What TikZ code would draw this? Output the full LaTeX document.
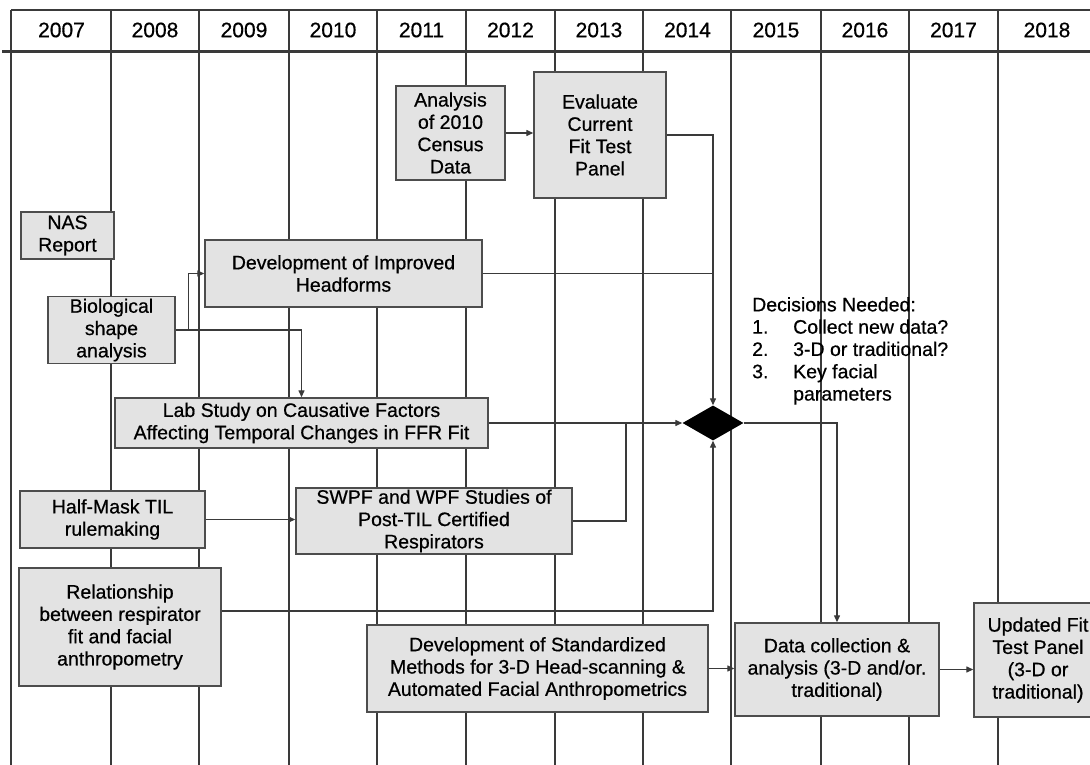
\documentclass[tikz,border=0pt]{standalone}
\usepackage{fontspec}
\setmainfont[FakeBold=0.6]{Liberation Sans}
\usetikzlibrary{arrows.meta,shapes.geometric}
\definecolor{boxfill}{HTML}{E3E3E3}
\definecolor{boxline}{HTML}{4D4D4D}
\definecolor{gridline}{HTML}{3A3A3A}

\begin{document}
\begin{tikzpicture}[x=1pt,y=-1pt,
    font=\fontsize{19.5}{22.3}\selectfont,
    taskbox/.style={draw=boxline,line width=1.4pt,fill=boxfill,align=center,inner sep=2pt},
    arrowline/.style={draw=gridline,line width=1.3pt,-{Triangle[length=7pt,width=6pt]}},
    joinline/.style={draw=gridline,line width=1.3pt}]
  \useasboundingbox (0,0) rectangle (1090,765);

  % Year grid and header
  \foreach \xd in {111,199,289,377,466,555,643,731,821,909,998}
    \draw[gridline,line width=1.3pt] (\xd,10) -- (\xd,765);
  \draw[gridline,line width=2.5pt] (11,10) -- (11,765);
  \draw[gridline,line width=2.5pt] (11,10) -- (1090,10);
  \draw[gridline,line width=3pt] (2,52) -- (1090,52);
  \foreach \yr/\xc in {2007/61.5,2008/155,2009/244,2010/333,2011/421.5,2012/510.5,
                       2013/599,2014/687.5,2015/776,2016/865,2017/953.5,2018/1047}
    \node[font=\fontsize{21}{24}\selectfont] (yr\yr) at (\xc,30) {\yr};

  % Tasks
  \node[taskbox,minimum width=93,minimum height=47] (nas) at (67.5,235.5) {NAS\\Report};
  \node[taskbox,minimum width=127,minimum height=66] (bio) at (111.5,330) {Biological\\shape\\analysis};
  \node[taskbox,minimum width=277,minimum height=67] (headforms) at (343.5,273.5) {Development of Improved\\Headforms};
  \node[taskbox,minimum width=109,minimum height=94] (census) at (450.5,133) {Analysis\\of 2010\\Census\\Data};
  \node[taskbox,minimum width=132,minimum height=126] (evaluate) at (600,135) {Evaluate\\Current\\Fit Test\\Panel};
  \node[taskbox,minimum width=373,minimum height=50] (lab) at (301.5,423) {Lab Study on Causative Factors\\Affecting Temporal Changes in FFR Fit};
  \node[taskbox,minimum width=185,minimum height=57] (halfmask) at (112.5,519.5) {Half-Mask TIL\\rulemaking};
  \node[taskbox,minimum width=276,minimum height=66,inner sep=0pt] (swpf) at (434,521) {SWPF and WPF Studies of\\Post-TIL Certified\\Respirators};
  \node[taskbox,minimum width=202,minimum height=118] (relation) at (120,627) {Relationship\\between respirator\\fit and facial\\anthropometry};
  \node[taskbox,minimum width=341,minimum height=87] (standard) at (537.5,668.5) {Development of Standardized\\Methods for 3-D Head-scanning \&\\Automated Facial Anthropometrics};
  \node[taskbox,minimum width=204,minimum height=93] (datacoll) at (837,669.5) {Data collection \&\\analysis (3-D and/or.\\traditional)};
  \node[taskbox,minimum width=128,minimum height=114] (updated) at (1038,660) {Updated Fit\\Test Panel\\(3-D or\\traditional)};

  % Decision point
  \node[diamond,fill=black,minimum width=61,minimum height=35,inner sep=0pt] (dec) at (713,423) {};
  \node[anchor=north west,align=left,inner sep=0pt] (decide) at (752,297)
    {Decisions Needed:\\\makebox[41pt][l]{1.}Collect new data?\\\makebox[41pt][l]{2.}3-D or traditional?\\
     \makebox[41pt][l]{3.}Key facial\\\hspace*{41pt}parameters};

  % Connectors
  \coordinate (swpfjoin) at (626,423);
  \draw[arrowline] (census.east) -- (evaluate.west |- census.east);
  \draw[arrowline] (evaluate.east) -| (dec.north);
  \draw[joinline] (headforms.east) -- (headforms.east -| dec.north);
  \draw[arrowline] (bio.east) -- ++(13,0) |- (headforms.west);
  \draw[arrowline] (bio.east) -| (lab.north);
  \draw[arrowline] (lab.east) -- (dec.west);
  \draw[joinline] (swpf.east) -| (swpfjoin);
  \draw[arrowline] (halfmask.east) -- (swpf.west |- halfmask.east);
  \draw[arrowline] ([yshift=16pt]relation.east) -| (dec.south);
  \draw[arrowline] (dec.east) -| (datacoll.north);
  \draw[arrowline] (standard.east) -- (datacoll.west |- standard.east);
  \draw[arrowline] (datacoll.east) -- (datacoll.east -| updated.west);
\end{tikzpicture}
\end{document}
